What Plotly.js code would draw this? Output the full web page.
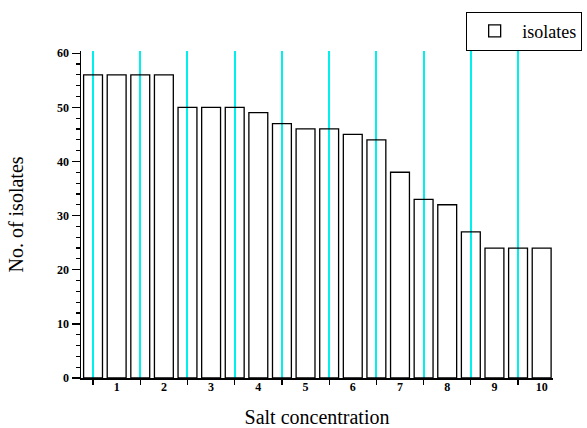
<!DOCTYPE html>
<html>
<head>
<meta charset="utf-8">
<script src="https://cdn.plot.ly/plotly-3.0.1.min.js"></script>
<style>html,body{margin:0;padding:0;background:#fff;}#chart{width:587px;height:428px;}</style>
</head>
<body>
<div id="chart"></div>
<script>
// Bar positions (two bars per salt concentration step) and counts
var barPositions = [0.5, 1, 1.5, 2, 2.5, 3, 3.5, 4, 4.5, 5, 5.5, 6, 6.5, 7, 7.5, 8, 8.5, 9, 9.5, 10];
var isolates = [56, 56, 56, 56, 50, 50, 50, 49, 47, 46, 46, 45, 44, 38, 33, 32, 27, 24, 24, 24];
var categoryTicks = [1, 2, 3, 4, 5, 6, 7, 8, 9, 10];
var categoryLabels = ['1', '2', '3', '4', '5', '6', '7', '8', '9', '10'];
var dividerTicks = [0.5, 1.5, 2.5, 3.5, 4.5, 5.5, 6.5, 7.5, 8.5, 9.5];
var yTicks = [0, 10, 20, 30, 40, 50, 60];

var serif = '"Liberation Serif", "Times New Roman", serif';

var trace = {
  type: 'bar',
  x: barPositions,
  y: isolates,
  width: 0.4,
  name: 'isolates',
  marker: {color: 'rgba(255,255,255,0)', line: {color: '#000000', width: 1.3}},
  hoverinfo: 'x+y'
};

// invisible helper trace so the category labels axis is drawn
var labelTrace = {
  type: 'scatter', mode: 'markers', x: categoryTicks, y: categoryTicks.map(function(){return 0;}),
  xaxis: 'x2', yaxis: 'y', marker: {opacity: 0}, showlegend: false, hoverinfo: 'skip'
};

var layout = {
  width: 587,
  height: 428,
  margin: {l: 81, r: 34, t: 51, b: 50, autoexpand: false},
  paper_bgcolor: '#ffffff',
  plot_bgcolor: '#ffffff',
  showlegend: true,
  legend: {
    x: 0.816, y: 1.12, xanchor: 'left', yanchor: 'top',
    bordercolor: '#000000', borderwidth: 1,
    font: {family: serif, size: 18, color: '#000000'},
    bgcolor: '#ffffff',
    itemwidth: 45
  },
  xaxis: {
    range: [0.245, 10.24],
    tickvals: dividerTicks,
    ticktext: dividerTicks.map(function(){return '';}),
    ticks: 'outside', ticklen: 5, tickwidth: 1.2, tickcolor: '#000000',
    showgrid: true, gridcolor: '#00f0f0', gridwidth: 2,
    showline: true, linecolor: '#000000', linewidth: 1.5,
    zeroline: false,
    title: {text: 'Salt concentration', font: {family: serif, size: 20, color: '#000000'}, standoff: 25}
  },
  xaxis2: {
    overlaying: 'x',
    matches: 'x',
    side: 'bottom',
    tickvals: categoryTicks,
    ticktext: categoryLabels,
    ticks: '',
    showgrid: false, showline: false, zeroline: false,
    tickfont: {family: serif, size: 12, color: '#000000', weight: 'bold'}
  },
  yaxis: {
    range: [0, 60.4],
    tickvals: yTicks,
    ticks: 'outside', ticklen: 8, tickwidth: 1.3, tickcolor: '#000000',
    minor: {dtick: 2, ticks: 'outside', ticklen: 4, tickwidth: 1.2, tickcolor: '#000000', showgrid: false},
    showgrid: false, zeroline: false,
    showline: true, linecolor: '#000000', linewidth: 1.5,
    tickfont: {family: serif, size: 12, color: '#000000', weight: 'bold'},
    title: {text: 'No. of isolates', font: {family: serif, size: 20, color: '#000000'}, standoff: 28}
  }
};

Plotly.newPlot('chart', [trace, labelTrace], layout, {displayModeBar: false, staticPlot: true});
</script>
</body>
</html>
